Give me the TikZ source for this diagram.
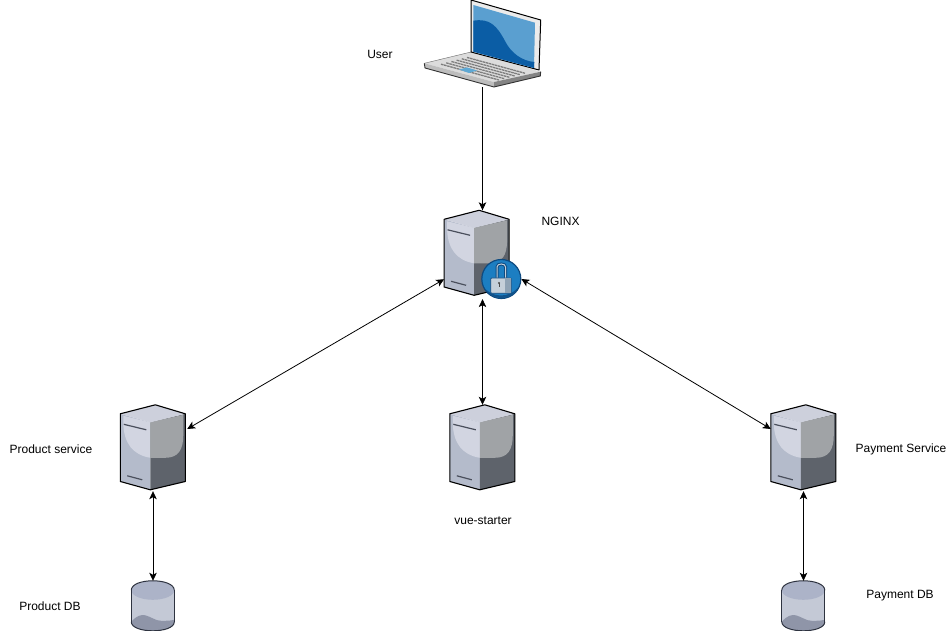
\documentclass[tikz,border=0pt]{standalone}
\usepackage{fontspec}
\setmainfont{Liberation Sans}
\usetikzlibrary{arrows.meta}
\definecolor{srvleft}{HTML}{B4BBCB}
\definecolor{srvlight}{HTML}{D2D5E1}
\definecolor{srvtop}{HTML}{CDD0DC}
\definecolor{srvright}{HTML}{A0A3A6}
\definecolor{srvdark}{HTML}{5E636B}
\definecolor{srvline}{HTML}{4A4F5C}
\definecolor{dbbody}{HTML}{C4C9D6}
\definecolor{dbtop}{HTML}{ACB3C8}
\definecolor{dbbase}{HTML}{8F95A8}
\definecolor{dbline}{HTML}{2E3340}
\definecolor{scrlight}{HTML}{5A9FD0}
\definecolor{scrdark}{HTML}{0B5DA5}
\definecolor{lapbase}{HTML}{DCDCDC}
\definecolor{lapfront}{HTML}{BDBDBD}
\definecolor{lapkeys}{HTML}{7D7D7D}
\definecolor{padblue}{HTML}{5FA8D3}
\definecolor{lockblue}{HTML}{1C7EC2}
\definecolor{lockdark}{HTML}{0E4A80}
\definecolor{lockbody}{HTML}{C5D0DA}
\definecolor{lockshade}{HTML}{8FA3B5}
\tikzset{
  x=1pt,y=-1pt,
  lbl/.style={font=\fontsize{12}{14}\selectfont,inner sep=0pt,text=black},
  conn/.style={black,line width=0.8pt},
  both/.style={conn,{Stealth[length=8pt,width=7.5pt,inset=2pt]}-{Stealth[length=8pt,width=7.5pt,inset=2pt]}},
  one/.style={conn,-{Stealth[length=8pt,width=7.5pt,inset=2pt]}},
  server/.pic={
    \fill[srvleft] (0,9)--(30,17.5)--(30,85)--(0,76.7)--cycle;
    \fill[srvdark] (30,17.5)--(65,9)--(65,76.7)--(30,85)--cycle;
    \fill[srvlight] (3,11)--(30,17.5)--(30,53) .. controls (12,50) and (4,38) .. (3,20)--cycle;
    \fill[srvright] (30,17.5)--(63,10)--(63,30) .. controls (63,45) and (58,53) .. (45,53)--(30,53)--cycle;
    \fill[srvtop] (0,9)--(35,0)--(65,9)--(30,17.5)--cycle;
    \draw[srvline,line width=1.2pt] (3.5,19.5)--(26,25);
    \draw[srvline,line width=1.2pt] (7,71)--(22,75);
    \draw[black,line width=1.1pt,line join=round] (0,9)--(35,0)--(65,9)--(65,76.7)--(30,85)--(0,76.7)--cycle;
  },
  dbcyl/.pic={
    \fill[dbbody] (0,9.5) -- (0,41) .. controls (0,53) and (43,53) .. (43,41) -- (43,9.5) -- cycle;
    \fill[dbbase] (0,41) .. controls (5,35) and (10,33.5) .. (14,34.5) .. controls (20,36) and (24,40) .. (30,40) .. controls (35,40) and (39,40) .. (43,39) -- (43,41) .. controls (43,53) and (0,53) .. (0,41) -- cycle;
    \fill[dbtop] (21.5,9.5) ellipse[x radius=21.5,y radius=9.5];
    \draw[dbline,line width=1pt] (0,41) .. controls (0,53) and (43,53) .. (43,41);
    \draw[dbline,line width=0.7pt] (0,9.5) -- (0,41) (43,9.5) -- (43,41);
    \draw[dbline,line width=1pt] (0,9.5) .. controls (0,-3.2) and (43,-3.2) .. (43,9.5);
  }
}
\begin{document}
\begin{tikzpicture}
\useasboundingbox (0,0) rectangle (951,631);
\fill[white] (0,0) rectangle (951,631);
% laptop
\node[inner sep=0pt,minimum width=117pt,minimum height=87pt] (user) at (482.5,43.5) {};
\fill[lapbase] (424.3,63.3)--(471,52)--(540.7,71.7)--(494,82)--cycle;
\fill[lapfront] (424.3,63.3)--(494,82)--(494,87)--(425,68)--cycle;
\fill[lapfront!70!black] (494,82)--(540.7,71.7)--(540.3,76)--(494,87)--cycle;
\draw[black!80,line width=0.9pt,line join=round] (424.3,63.3)--(425,68)--(494,87)--(540.3,76)--(540.7,71.7);
\draw[black!60,line width=0.4pt] (424.3,63.3)--(471,52);
\foreach \k in {0,1,2,3,4,5}{
  \draw[lapkeys,line width=1.3pt,dash pattern=on 2.6pt off 0.6pt] ({441+\k*5.2},{64.2-\k*1.35})--({499+\k*5.2},{80-\k*1.35});
}
\fill[padblue] (459,69.5)--(467,67.5)--(477,70.5)--(469,73)--cycle;
\fill[black!8,draw=black,line width=1pt,line join=round] (471,0)--(540.7,20)--(539,70)--(471,52)--cycle;
\fill[scrlight] (473.3,5)--(535,22.7)--(534,68)--(473.3,51.7)--cycle;
\fill[scrdark] (473.3,20.7) .. controls (490,18) and (497,26) .. (505,41) .. controls (511,53) and (522,61) .. (534.3,62)--(534,68)--(473.3,51.7)--cycle;
% servers
\node[inner sep=0pt,minimum width=65pt,minimum height=85pt] (nginx) at (476.8,253) {};
\node[inner sep=0pt,minimum width=65pt,minimum height=85pt] (vue) at (482.5,447.5) {};
\node[inner sep=0pt,minimum width=65pt,minimum height=85pt] (product) at (153,447.5) {};
\node[inner sep=0pt,minimum width=65pt,minimum height=85pt] (payment) at (803.5,447.5) {};
\pic at (nginx.north west) {server};
\pic at (vue.north west) {server};
\pic at (product.north west) {server};
\pic at (payment.north west) {server};
% lock badge
\node[circle,inner sep=0pt,minimum size=39pt,fill=lockblue,draw=lockdark,line width=1.2pt] (lock) at (501.3,279) {};
\begin{scope}
  \clip (501.3,279) circle[radius=19];
  \fill[lockdark!85!lockblue] (482,285) .. controls (490,298) and (510,300) .. (520,285) -- (520,300) -- (482,300) -- cycle;
\end{scope}
\draw[lockdark,line width=3pt] (497,278) -- (497,267) .. controls (497,263) and (505.6,263) .. (505.6,267) -- (505.6,278);
\draw[lockbody,line width=1pt] (497,278) -- (497,267) .. controls (497,263) and (505.6,263) .. (505.6,267) -- (505.6,278);
\fill[lockbody,draw=lockdark,line width=0.7pt,rounded corners=1pt] (490.7,278)--(511.3,278)--(511.3,293.3)--(490.7,293.3)--cycle;
\fill[lockshade] (505,278.5)--(511,278.5)--(511,293)--(505,293)--cycle;
\fill[black!70] (499,283) circle[radius=1.2];
\draw[black!70,line width=0.8pt] (499,283)--(499,287);
% databases
\node[inner sep=0pt,minimum width=43pt,minimum height=50pt] (pdb) at (153,606) {};
\node[inner sep=0pt,minimum width=43pt,minimum height=50pt] (paydb) at (803.5,606) {};
\pic at (pdb.north west) {dbcyl};
\pic at (paydb.north west) {dbcyl};
% connectors
\draw[one] (user.south -| vue.north) -- (nginx.north -| vue.north);
\draw[both] (lock.south -| vue.north) -- (vue.north);
\draw[both] ([yshift=16.5pt]nginx.south west) -- ([xshift=1.5pt,yshift=18.5pt]product.east);
\draw[both] (lock.east) -- ([yshift=18.5pt]payment.west);
\draw[both] ([yshift=-1pt]product.south) -- (pdb.north);
\draw[both] ([yshift=-1pt]payment.south) -- (paydb.north);
% labels
\node[lbl] (tuser) at (380,54) {User};
\node[lbl] (tnginx) at (560.5,221) {NGINX};
\node[lbl] (tproduct) at (51,449) {Product service};
\node[lbl] (tvue) at (483,521) {vue-starter};
\node[lbl] (tpay) at (901,449) {Payment Service};
\node[lbl] (tpdb) at (50,606) {Product DB};
\node[lbl] (tpaydb) at (900,596) {Payment DB};
\end{tikzpicture}
\end{document}
